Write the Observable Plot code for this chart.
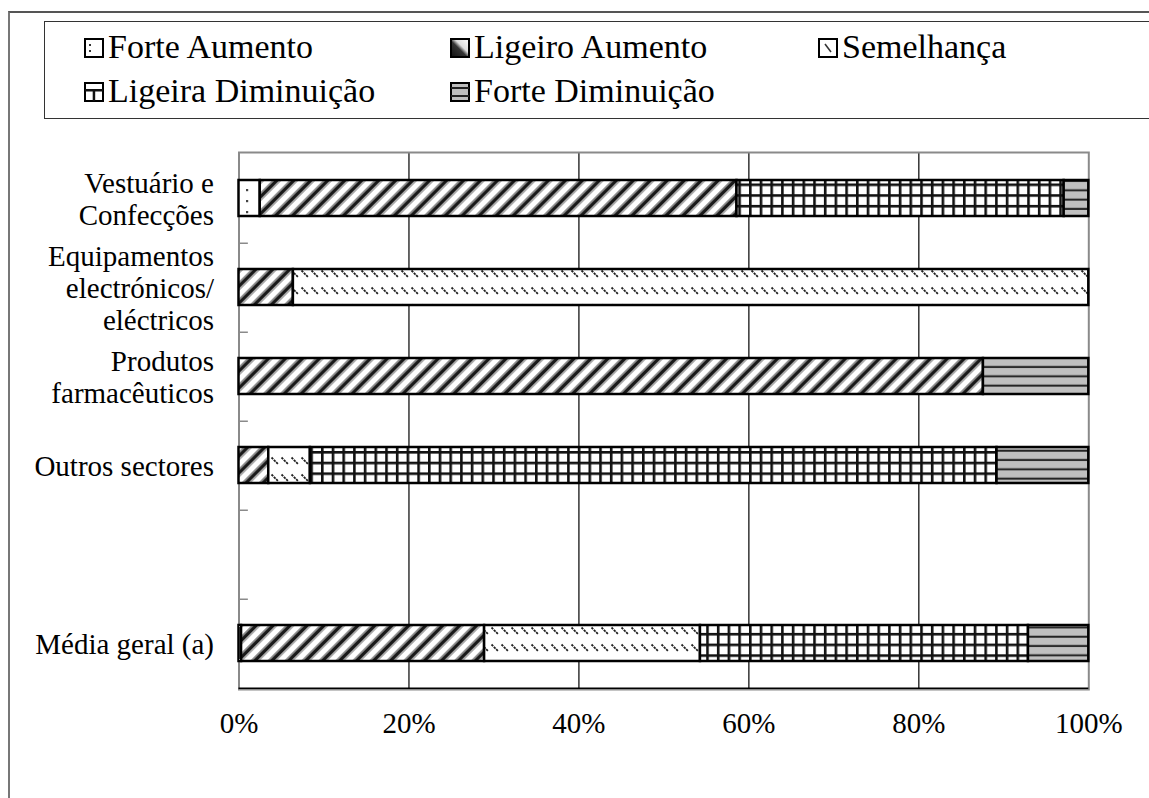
<!DOCTYPE html>
<html lang="pt">
<head>
<meta charset="utf-8">
<script src="https://cdn.jsdelivr.net/npm/d3@7"></script>
<script src="https://cdn.jsdelivr.net/npm/@observablehq/plot@0.6"></script>
<style>
  html, body { margin: 0; padding: 0; background: #fff; }
  #chart {
    position: relative; width: 1149px; height: 798px; overflow: hidden; background: #fff;
    font-family: "Liberation Serif", "Times New Roman", serif; color: #000;
  }
  #outer {
    position: absolute; left: 8px; top: 11px; width: 1200px; height: 850px;
    border-left: 2px solid #777; border-top: 2px solid #555;
  }
  #legend {
    position: absolute; left: 44px; top: 21px; width: 1200px; height: 96px;
    border: 1.4px solid #333; background: #fff;
  }
  .item {
    position: absolute; font-size: 34px; line-height: 1; white-space: nowrap;
  }
  .item svg { vertical-align: baseline; margin-right: 4px; }
  #plot { position: absolute; left: 0; top: 130px; }
</style>
</head>
<body>
<div id="chart">
  <div id="outer"></div>
  <div id="legend"></div>
  <div id="plot"></div>
</div>
<script>
// Categories (rows) and response classes (stacked segments)
const sectors = [
  "Vestuário e\nConfecções",
  "Equipamentos\nelectrónicos/\neléctricos",
  "Produtos\nfarmacêuticos",
  "Outros sectores",
  "Média geral (a)"
];
// an empty row separates the sectors from the overall average
const rowOrder = [...sectors.slice(0, 4), "", sectors[4]];

const seriesNames = ["Forte Aumento", "Ligeiro Aumento", "Semelhança", "Ligeira Diminuição", "Forte Diminuição"];

// shares (%) per sector, in the order of `sectors`
const forteAumento      = [2.5,  0,    0,    0,    0.3];
const ligeiroAumento    = [56.1, 6.4,  87.6, 3.5,  28.6];
const semelhanca        = [0,    93.6, 0,    4.9,  25.4];
const ligeiraDiminuicao = [38.5, 0,    0,    80.8, 38.6];
const forteDiminuicao   = [2.9,  0,    12.4, 10.8, 7.1];

const xTicks = [0, 20, 40, 60, 80, 100];

const seriesValues = [forteAumento, ligeiroAumento, semelhanca, ligeiraDiminuicao, forteDiminuicao];
const patternIds = ["p-fa", "p-la", "p-se", "p-ld", "p-fd"];

const rows = seriesNames.flatMap((series, i) =>
  sectors.map((sector, j) => ({sector, series, value: seriesValues[i][j]}))
).filter(d => d.value > 0);

// layout
const width = 1149, height = 640;
const marginTop = 22, marginBottom = 81, marginLeft = 238.5, marginRight = 60.7;
const paddingInner = 0.6, paddingOuter = 0.3;
const step = (height - marginTop - marginBottom) / (rowOrder.length - paddingInner + 2 * paddingOuter);

const patternDefs = `
<defs>
  <pattern id="p-fa" patternUnits="userSpaceOnUse" width="16" height="11">
    <rect width="16" height="11" fill="#fff"/>
    <rect x="6" y="4" width="2.2" height="2.2" fill="#444"/>
  </pattern>
  <pattern id="p-la" patternUnits="userSpaceOnUse" width="12" height="12" patternTransform="rotate(45)">
    <rect width="12" height="12" fill="#fff"/>
    <rect x="0" width="1.6" height="12" fill="#999"/>
    <rect x="1.6" width="3.6" height="12" fill="#1a1a1a"/>
    <rect x="5.2" width="1.6" height="12" fill="#999"/>
  </pattern>
  <pattern id="p-se" patternUnits="userSpaceOnUse" width="10" height="17">
    <rect width="10" height="17" fill="#fff"/>
    <path d="M1.5,4.5 L8.5,11.5" stroke="#222" stroke-width="1.8" stroke-dasharray="2.4 0.9"/>
  </pattern>
  <pattern id="p-ld" patternUnits="userSpaceOnUse" width="10.7" height="10.7">
    <rect width="10.7" height="10.7" fill="#fff"/>
    <rect width="10.7" height="2.6" fill="#111"/>
    <rect width="2.6" height="10.7" fill="#111"/>
  </pattern>
  <pattern id="p-fd" patternUnits="userSpaceOnUse" width="10" height="9.3">
    <rect width="10" height="9.3" fill="#c0c0c0"/>
    <rect y="3.5" width="10" height="2" fill="#222"/>
  </pattern>
</defs>`;

const chart = Plot.plot({
  width, height, marginTop, marginBottom, marginLeft, marginRight,
  style: {
    fontFamily: "'Liberation Serif', 'Times New Roman', serif",
    fontSize: "29px",
    color: "#000",
    background: "transparent"
  },
  x: {domain: [0, 100]},
  y: {domain: rowOrder, paddingInner, paddingOuter, align: 0.5},
  color: {type: "identity"},
  marks: [
    Plot.ruleX([20, 40, 60, 80], {stroke: "#000", strokeWidth: 1.2}),
    Plot.frame({stroke: "#8a8a8a", strokeWidth: 2}),
    // small ticks between categories on the left edge
    Plot.ruleY(rowOrder.slice(0, -1), {y: d => d, x1: 0, x2: 1.1, dy: step / 2, stroke: "#8a8a8a", strokeWidth: 1.5}),
    // baseline
    Plot.ruleY(rowOrder.slice(-1), {y: d => d, x1: 0, x2: 100, dy: step / 2, stroke: "#000", strokeWidth: 1.6}),
    Plot.barX(rows, Plot.stackX({
      y: "sector",
      x: "value",
      z: "series",
      order: seriesNames,
      fill: d => `url(#${patternIds[seriesNames.indexOf(d.series)]})`,
      stroke: "#000",
      strokeWidth: 2.5
    })),
    Plot.axisX({ticks: xTicks, tickFormat: d => d + "%", tickSize: 0, tickPadding: 23, fontSize: 29, label: null}),
    Plot.axisY({tickSize: 0, tickPadding: 25, fontSize: 29, lineHeight: 1.1, label: null})
  ]
});
chart.insertAdjacentHTML("afterbegin", patternDefs);
document.getElementById("plot").appendChild(chart);

// legend swatches
const swatches = {
  "Forte Aumento": `<rect x="1" y="1" width="18" height="18" fill="#fff" stroke="#000" stroke-width="2"/>
    <rect x="5" y="6" width="2" height="2" fill="#333"/><rect x="5" y="12" width="2" height="2" fill="#333"/>`,
  "Ligeiro Aumento": `<defs><linearGradient id="sw-la" x1="0" y1="1" x2="1" y2="0">
      <stop offset="0" stop-color="#111"/><stop offset="0.45" stop-color="#333"/><stop offset="0.6" stop-color="#ddd"/><stop offset="1" stop-color="#fff"/></linearGradient></defs>
    <rect x="1" y="1" width="18" height="18" fill="url(#sw-la)" stroke="#000" stroke-width="2"/>`,
  "Semelhança": `<rect x="1" y="1" width="18" height="18" fill="#fff" stroke="#000" stroke-width="2"/>
    <path d="M7,6 L13,14" stroke="#333" stroke-width="1.6"/>`,
  "Ligeira Diminuição": `<rect x="1" y="1" width="18" height="18" fill="#fff" stroke="#000" stroke-width="2"/>
    <rect x="1" y="7" width="18" height="2.5" fill="#111"/><rect x="8.7" y="7" width="2.5" height="12" fill="#111"/>`,
  "Forte Diminuição": `<rect x="1" y="1" width="18" height="18" fill="#bdbdbd" stroke="#000" stroke-width="2"/>
    <rect x="1" y="5" width="18" height="2" fill="#222"/><rect x="1" y="13" width="18" height="2" fill="#222"/>`
};
const legendCols = [39, 405, 773];
const legendRows = [7.5, 52];
const legendSlots = [[0, 0], [1, 0], [2, 0], [0, 1], [1, 1]];
const legend = document.getElementById("legend");
seriesNames.forEach((name, i) => {
  const [c, r] = legendSlots[i];
  const el = document.createElement("div");
  el.className = "item";
  el.style.left = legendCols[c] + "px";
  el.style.top = legendRows[r] + "px";
  el.innerHTML = `<svg width="20" height="20" viewBox="0 0 20 20">${swatches[name]}</svg>${name}`;
  legend.appendChild(el);
});
</script>
</body>
</html>
